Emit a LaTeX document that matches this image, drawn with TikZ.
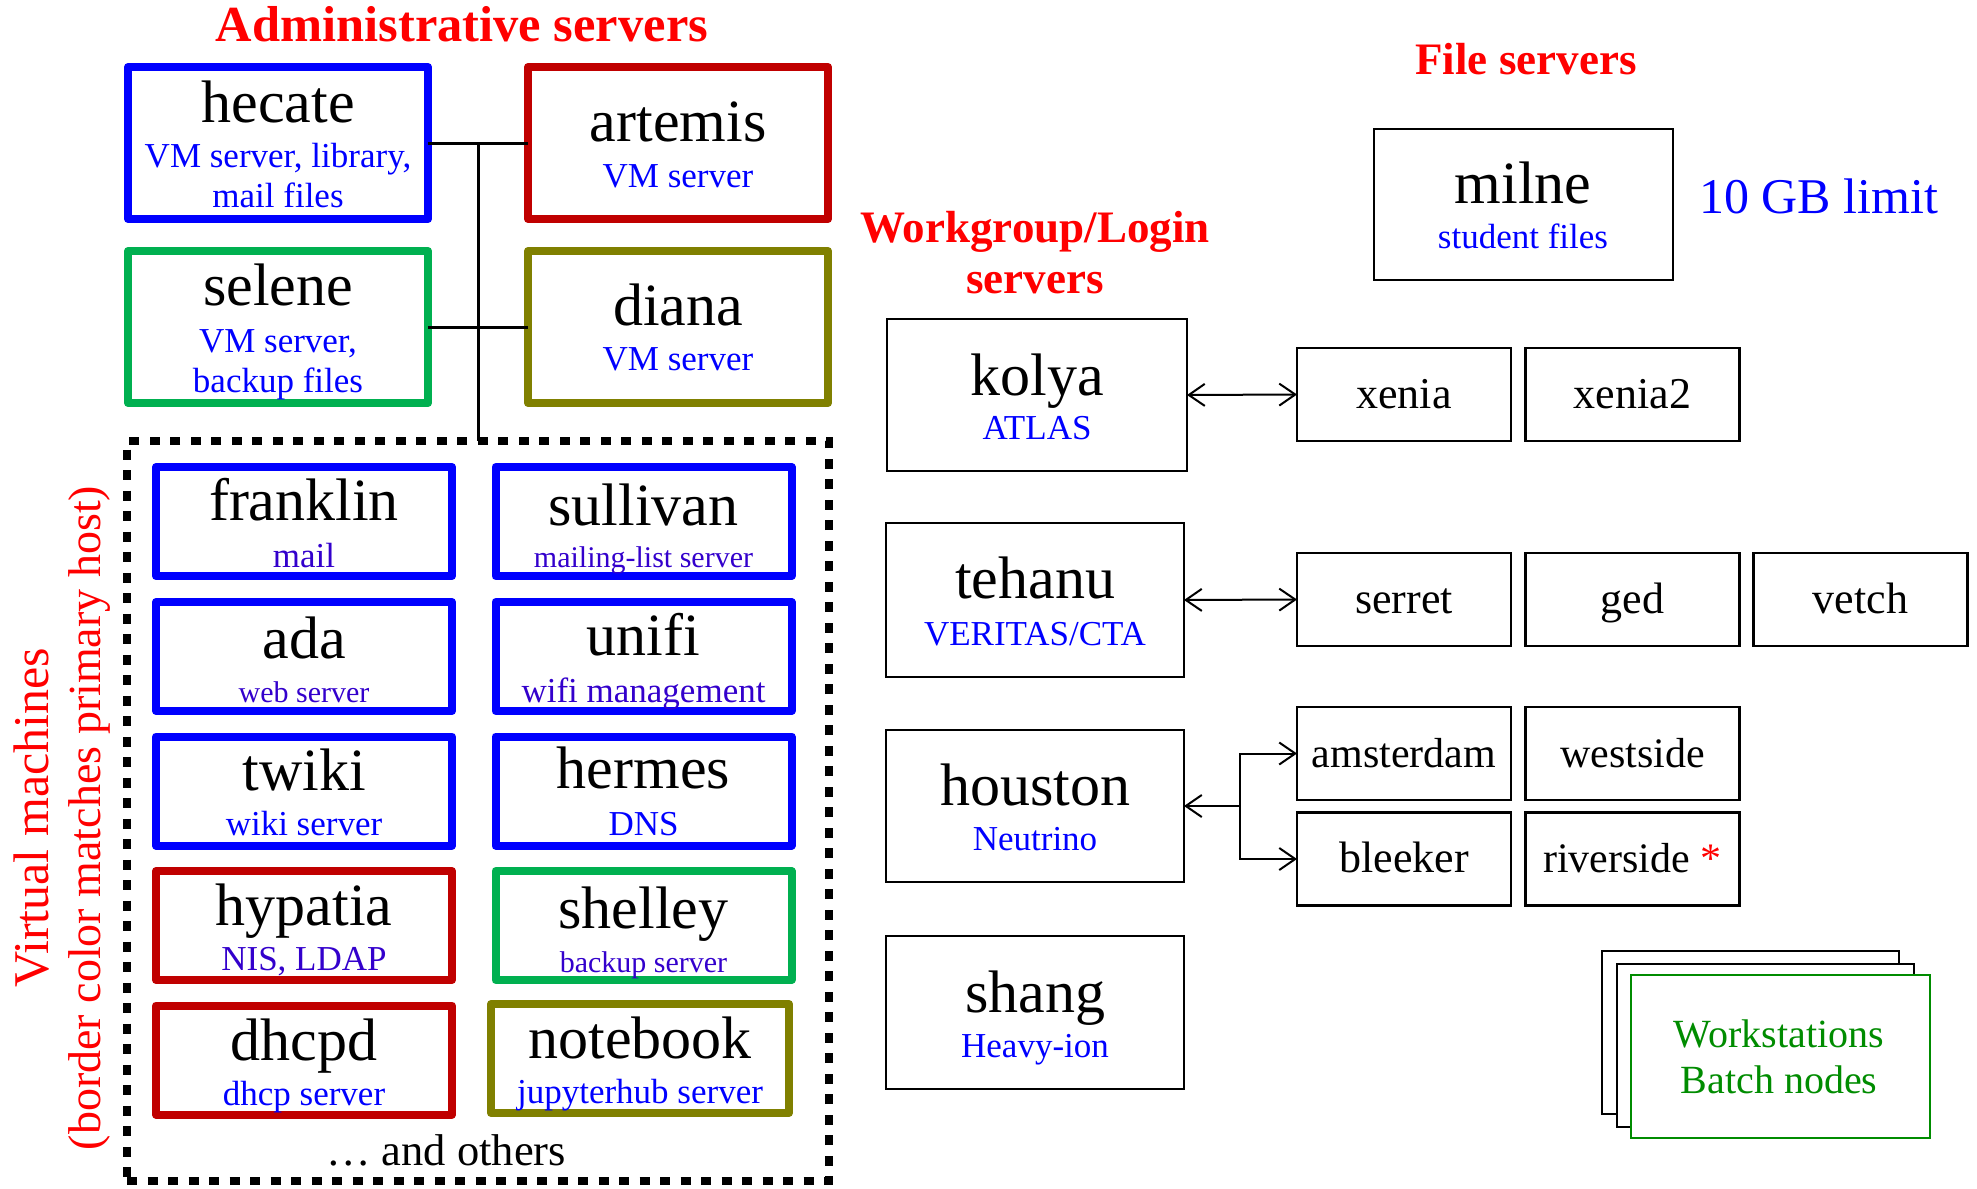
\documentclass[tikz,border=0pt]{standalone}
\usepackage{fontspec}
\setmainfont{Liberation Serif}
\usetikzlibrary{arrows.meta}
\definecolor{cblue}{RGB}{0,0,255}
\definecolor{cred}{RGB}{192,0,0}
\definecolor{cgreen}{RGB}{0,176,80}
\definecolor{colive}{RGB}{128,128,0}
\definecolor{cpurple}{RGB}{51,0,204}
\definecolor{tred}{RGB}{255,0,0}
\definecolor{wsgreen}{RGB}{0,140,0}
\newcommand{\fname}{\fontsize{60}{62}\selectfont}
\newcommand{\fsub}{\fontsize{35}{37}\selectfont}
\newcommand{\fsubs}{\fontsize{30}{32}\selectfont}
\newcommand{\fsmall}{\fontsize{44}{46}\selectfont}
\tikzset{
  every node/.style={inner sep=0pt, outer sep=0pt},
  admin/.style={draw=#1, line width=8pt, line join=round, minimum width=300pt, minimum height=152pt},
  vmbox/.style={draw=#1, line width=8pt, line join=round, minimum width=296pt, minimum height=109pt},
  login/.style={draw=black, line width=2.5pt, minimum width=298pt, minimum height=152pt},
  smallbox/.style={draw=black, line width=2.5pt, minimum width=214pt, minimum height=93pt, font=\fsmall, text height=36pt, text depth=9pt},
  nm/.style={anchor=base, font=\fname},
  sb/.style={anchor=base, font=\fsub, text=#1},
  sbs/.style={anchor=base, font=\fsubs, text=#1},
  heading/.style={anchor=base, text=tred, font=\bfseries#1},
  bus/.style={line width=3pt},
  tipb/.tip={Straight Barb[length=16pt,width=22pt]},
  conn/.style={line width=2pt},
  stack/.style={draw=black, fill=white, line width=2.5pt, minimum width=297pt, minimum height=163pt},
}
\begin{document}
\begin{tikzpicture}[x=1pt,y=-1pt]
\useasboundingbox (0,0) rectangle (1977,1188);

% Headings
\node[heading={\fontsize{50.5}{52}\selectfont}] (h-admin) at (462,42) {Administrative servers};
\node[heading={\fontsize{45}{47}\selectfont}] (h-file) at (1526,75) {File servers};
\node[heading={\fontsize{45}{46}\selectfont}] (h-work1) at (1035,242) {Workgroup/Login};
\node[heading={\fontsize{45}{46}\selectfont}] (h-work2) at (1035,293) {servers};

% Administrative servers
\node[admin=cblue] (hecate) at (278,143) {};
\node[admin=cred] (artemis) at (678,143) {};
\node[admin=cgreen] (selene) at (278,327) {};
\node[admin=colive] (diana) at (678,327) {};
\node[nm] (hecate-n) at (278,122) {hecate};
\node[sb=cblue] (hecate-s1) at (278,167) {VM server, library,};
\node[sb=cblue] (hecate-s2) at (278,207) {mail files};
\node[nm] (artemis-n) at (678,142) {artemis};
\node[sb=cblue] (artemis-s) at (678,187) {VM server};
\node[nm] (selene-n) at (278,305) {selene};
\node[sb=cblue] (selene-s1) at (278,352) {VM server,};
\node[sb=cblue] (selene-s2) at (278,392) {backup files};
\node[nm] (diana-n) at (678,325) {diana};
\node[sb=cblue] (diana-s) at (678,370) {VM server};

% Virtual machine group
\node[draw=black, line width=8pt, dash pattern=on 10pt off 10.5pt, minimum width=702pt, minimum height=740pt] (vmgroup) at (478,811) {};
\coordinate (bustop) at (478,143);
\draw[bus] (hecate.east) -- (artemis.west);
\draw[bus] (selene.east) -- (diana.west);
\draw[bus] (bustop) -- (vmgroup.north);

% VMs
\node[vmbox=cblue] (franklin) at (304,521.5) {};
\node[vmbox=cblue] (sullivan) at (643.5,521.5) {};
\node[vmbox=cblue] (ada) at (304,656.5) {};
\node[vmbox=cblue] (unifi) at (643.5,656.5) {};
\node[vmbox=cblue] (twiki) at (304,791) {};
\node[vmbox=cblue] (hermes) at (643.5,791) {};
\node[vmbox=cred] (hypatia) at (304,925.5) {};
\node[vmbox=cgreen] (shelley) at (643.5,925.5) {};
\node[vmbox=cred] (dhcpd) at (304,1060) {};
\node[vmbox=colive, minimum width=298pt] (notebook) at (640,1058.5) {};

\node[nm] (franklin-n) at (304,520) {franklin};
\node[sb=cpurple] (franklin-s) at (304,567) {mail};
\node[nm] (sullivan-n) at (643.5,525) {sullivan};
\node[sbs=cpurple] (sullivan-s) at (643.5,567) {mailing-list server};
\node[nm] (ada-n) at (304,658) {ada};
\node[sbs=cpurple] (ada-s) at (304,702) {web server};
\node[nm] (unifi-n) at (643.5,655) {unifi};
\node[sb=cpurple] (unifi-s) at (643.5,702) {wifi management};
\node[nm] (twiki-n) at (304,790) {twiki};
\node[sb=cblue] (twiki-s) at (304,835) {wiki server};
\node[nm] (hermes-n) at (643.5,788) {hermes};
\node[sb=cblue] (hermes-s) at (643.5,835) {DNS};
\node[nm] (hypatia-n) at (304,925) {hypatia};
\node[sb=cpurple] (hypatia-s) at (304,970) {NIS, LDAP};
\node[nm] (shelley-n) at (643.5,928) {shelley};
\node[sbs=cpurple] (shelley-s) at (643.5,972) {backup server};
\node[nm] (dhcpd-n) at (304,1060) {dhcpd};
\node[sb=cblue] (dhcpd-s) at (304,1105) {dhcp server};
\node[nm] (notebook-n) at (640,1058) {notebook};
\node[sb=cblue] (notebook-s) at (640,1103) {jupyterhub server};
\node[anchor=base, font=\fontsize{44.5}{46}\selectfont] (others) at (446,1165) {… and others};

% Rotated labels
\node[rotate=90, anchor=base, text=tred, font=\fontsize{50}{52}\selectfont] (vm-l1) at (48,818) {Virtual machines};
\node[rotate=90, anchor=base, text=tred, font=\fontsize{46}{48}\selectfont] (vm-l2) at (100,818) {(border color matches primary host)};

% File server
\node[login, minimum width=299pt, minimum height=151pt] (milne) at (1523.5,204.5) {};
\node[nm] (milne-n) at (1523,203) {milne};
\node[sb=cblue] (milne-s) at (1523,248) {student files};
\node[anchor=base west, text=cblue, font=\fontsize{50}{52}\selectfont] (limit) at (1699,213) {10 GB limit};

% Login servers
\node[login, minimum width=300pt] (kolya) at (1037,395) {};
\node[nm] (kolya-n) at (1037,395) {kolya};
\node[sb=cblue] (kolya-s) at (1037,439) {ATLAS};
\node[login, minimum height=154pt] (tehanu) at (1035,600) {};
\node[nm] (tehanu-n) at (1035,598) {tehanu};
\node[sb=cblue] (tehanu-s) at (1035,645) {VERITAS/CTA};
\node[login] (houston) at (1035,806) {};
\node[nm] (houston-n) at (1035,805) {houston};
\node[sb=cblue] (houston-s) at (1035,850) {Neutrino};
\node[login, minimum height=153pt] (shang) at (1035,1012.5) {};
\node[nm] (shang-n) at (1035,1012) {shang};
\node[sb=cblue] (shang-s) at (1035,1057) {Heavy-ion};

% Work group machines
\node[smallbox] (xenia) at (1404,394.5) {xenia};
\node[smallbox] (xenia2) at (1632.5,394.5) {xenia2};
\node[smallbox] (serret) at (1404,599.5) {serret};
\node[smallbox] (ged) at (1632.5,599.5) {ged};
\node[smallbox] (vetch) at (1860.5,599.5) {vetch};
\node[smallbox, font=\fontsize{42}{44}\selectfont] (amsterdam) at (1404,753.5) {amsterdam};
\node[smallbox, font=\fontsize{42}{44}\selectfont] (westside) at (1632.5,753.5) {westside};
\node[smallbox] (bleeker) at (1404,859) {bleeker};
\node[smallbox, font=\fontsize{42}{44}\selectfont] (riverside) at (1632.5,859) {riverside {\color{tred}*}};

% Connectors
\draw[conn, tipb-tipb] (kolya.east) -- (xenia.west);
\draw[conn, tipb-tipb] (tehanu.east) -- (serret.west);
\coordinate (hj) at (1240,806);
\draw[conn, -tipb] (hj) -- (houston.east);
\draw[conn, -tipb] (hj) |- (amsterdam.west);
\draw[conn, -tipb] (hj) |- (bleeker.west);

% Workstations stack
\node[stack] (stack-back) at (1750.5,1032.5) {};
\node[stack] (stack-mid) at (1765.5,1045.5) {};
\node[stack, draw=wsgreen, line width=2pt, minimum width=299pt] (stack-front) at (1780.5,1056.5) {};
\node[anchor=base, text=wsgreen, font=\fontsize{40}{42}\selectfont] (ws-1) at (1779,1047) {Workstations};
\node[anchor=base, text=wsgreen, font=\fontsize{40}{42}\selectfont] (ws-2) at (1779,1093) {Batch nodes};
\end{tikzpicture}
\end{document}
